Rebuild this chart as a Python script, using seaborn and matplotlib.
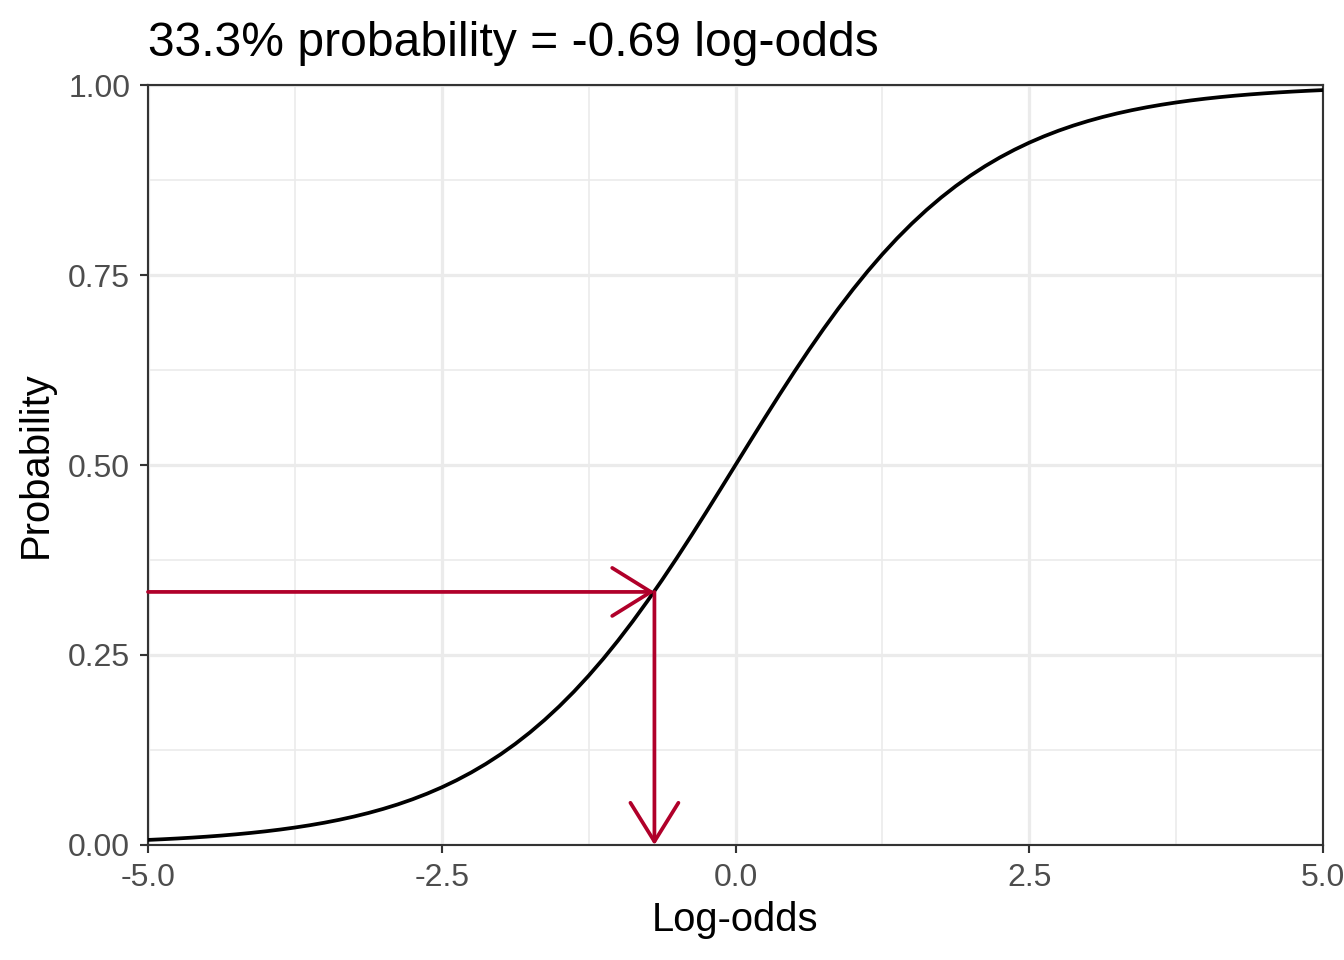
import numpy as np
import pandas as pd
import matplotlib.pyplot as plt
import seaborn as sns
from matplotlib.ticker import MultipleLocator

# curve values (left half; right half mirrors around 0.5)
log_odds_left = [-5.0, -4.875, -4.75, -4.625, -4.5, -4.375, -4.25, -4.125, -4.0, -3.875,
                 -3.75, -3.625, -3.5, -3.375, -3.25, -3.125, -3.0, -2.875, -2.75, -2.625,
                 -2.5, -2.375, -2.25, -2.125, -2.0, -1.875, -1.75, -1.625, -1.5, -1.375,
                 -1.25, -1.125, -1.0, -0.875, -0.75, -0.625, -0.5, -0.375, -0.25, -0.125]
prob_left = [0.00669, 0.00758, 0.00858, 0.00971, 0.01099, 0.01243, 0.01406, 0.01591, 0.01799, 0.02033,
             0.02298, 0.02596, 0.02931, 0.03309, 0.03732, 0.04209, 0.04743, 0.05339, 0.06008, 0.06755,
             0.07586, 0.08511, 0.09535, 0.10669, 0.11920, 0.13296, 0.14805, 0.16453, 0.18243, 0.20181,
             0.22270, 0.24508, 0.26894, 0.29421, 0.32082, 0.34865, 0.37754, 0.40733, 0.43782, 0.46879]

log_odds = log_odds_left + [0.0] + [-v for v in reversed(log_odds_left)]
probability = prob_left + [0.5] + [1 - p for p in reversed(prob_left)]

# highlighted point
point_prob = 0.333
point_logodds = -0.69

df = pd.DataFrame({"Log-odds": log_odds, "Probability": probability})

sns.set_theme(style="white")
plt.rcParams['font.family'] = ['Liberation Sans', 'DejaVu Sans']
plt.rcParams['text.color'] = 'black'
plt.rcParams['axes.labelcolor'] = 'black'

fig = plt.figure(figsize=(7, 5), dpi=192)
ax = fig.add_axes([148/1344, 1 - 845/960, (1323 - 148)/1344, (845 - 85)/960])

sns.lineplot(data=df, x="Log-odds", y="Probability", ax=ax, color="black", linewidth=1.4, zorder=3)

red = "#B0002A"
arrow = dict(arrowstyle="->,head_length=14.5,head_width=9", color=red, lw=1.4,
             shrinkA=0, shrinkB=0, mutation_scale=1)
ax.annotate("", xy=(point_logodds, point_prob), xytext=(-5, point_prob), arrowprops=arrow, zorder=4)
ax.annotate("", xy=(point_logodds, 0), xytext=(point_logodds, point_prob), arrowprops=arrow, zorder=4)

ax.set_xlim(-5, 5)
ax.set_ylim(0, 1)
ax.xaxis.set_major_locator(MultipleLocator(2.5))
ax.xaxis.set_minor_locator(MultipleLocator(1.25))
ax.yaxis.set_major_locator(MultipleLocator(0.25))
ax.yaxis.set_minor_locator(MultipleLocator(0.125))
ax.xaxis.set_major_formatter(lambda v, p: f"{v:.1f}")
ax.yaxis.set_major_formatter(lambda v, p: f"{v:.2f}")

ax.grid(which="major", color="#EBEBEB", linewidth=1.2)
ax.grid(which="minor", color="#EBEBEB", linewidth=0.6)
ax.set_axisbelow(True)
for s in ax.spines.values():
    s.set_color("#333333")
    s.set_linewidth(0.8)

ax.tick_params(which="major", length=3, width=0.8, color="#333333", labelcolor="#4D4D4D",
               labelsize=12, pad=3.7, bottom=True, left=True)
ax.tick_params(which="minor", length=0, bottom=False, left=False)

ax.set_xlabel("Log-odds", fontsize=15, labelpad=3)
ax.set_ylabel("Probability", fontsize=15, labelpad=5)
ax.set_title("33.3% probability = -0.69 log-odds", loc="left", fontsize=18, pad=11, color="black")

fig.savefig("out.png", dpi=192)
